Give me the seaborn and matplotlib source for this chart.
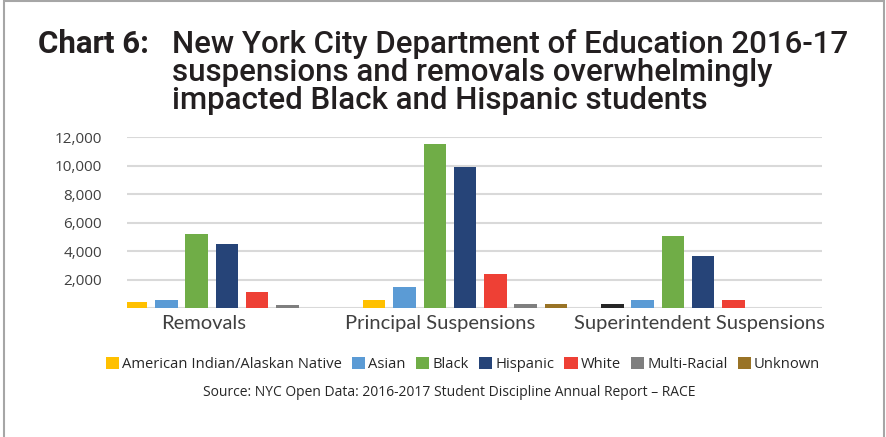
import pandas as pd
import matplotlib.pyplot as plt
from matplotlib.patches import Rectangle
from matplotlib.ticker import FuncFormatter
from matplotlib.transforms import ScaledTranslation
import seaborn as sns

# Chart values
categories = ['Removals', 'Principal Suspensions', 'Superintendent Suspensions']
races = ['American Indian/Alaskan Native', 'Asian', 'Black', 'Hispanic',
         'White', 'Multi-Racial', 'Unknown']
american_indian = [450, 580, 300]
asian = [580, 1490, 580]
black = [5230, 11500, 5080]
hispanic = [4530, 9950, 3690]
white = [1150, 2410, 600]
multi_racial = [200, 290, 0]
unknown = [0, 280, 0]

colors = ['#FFC000', '#5B9BD5', '#70AD47', '#264478', '#EE4035', '#7F7F7F', '#997326']

series = [american_indian, asian, black, hispanic, white, multi_racial, unknown]
rows = []
for race, vals in zip(races, series):
    for cat, v in zip(categories, vals):
        rows.append({'category': cat, 'race': race, 'count': v})
df = pd.DataFrame(rows)

sns.set_style('white')
plt.rcParams['font.family'] = ['Open Sans', 'DejaVu Sans']

fig = plt.figure(figsize=(8.87, 4.37), dpi=100)
ax = fig.add_axes([0.143, 0.2945, 0.784, 0.3913])

sns.barplot(data=df, x='category', y='count', hue='race', order=categories,
            hue_order=races, palette=dict(zip(races, colors)),
            width=0.89, gap=0.26, linewidth=0, saturation=1, ax=ax)

# the Superintendent bar for the first group is drawn dark in the original
ax.containers[0].patches[2].set_facecolor('#262626')

ax.set_ylim(0, 12000)
ax.set_xlim(-0.42, 2.50)
ax.set_yticks(range(0, 12001, 2000))
ax.yaxis.set_major_formatter(FuncFormatter(lambda v, p: '' if v == 0 else f'{v:,.0f}'))
ax.grid(axis='y', color='#d9d9d9', linewidth=1.5)
ax.set_axisbelow(True)
for s in ax.spines.values():
    s.set_visible(False)
ax.set_xlabel('')
ax.set_ylabel('')
ax.tick_params(axis='y', length=0, pad=18, labelsize=11, labelcolor='#404040')
ax.tick_params(axis='x', length=0, pad=5, labelsize=14.5, labelcolor='#404040')
# category labels sit a little left of their groups in the original
label_shift = [-23, -25, -4]
for lbl, dx in zip(ax.get_xticklabels(), label_shift):
    lbl.set_family(['Lato', 'DejaVu Sans'])
    lbl.set_transform(lbl.get_transform() + ScaledTranslation(dx / 100, 0, fig.dpi_scale_trans))

ax.legend(loc='upper center', bbox_to_anchor=(0.522, 0.196), bbox_transform=fig.transFigure,
          ncol=7, frameon=False, fontsize=10.6, handlelength=0.9, handleheight=0.9,
          handletextpad=0.2, columnspacing=0.7, labelcolor='#262626',
          borderaxespad=0)

# title
title_font = ['Roboto', 'DejaVu Sans']
fig.text(38 / 887, 1 - 29 / 437, 'Chart 6:', fontsize=22.5, fontweight='semibold',
         color='#231f20', va='top', ha='left', family=title_font)
fig.text(172 / 887, 1 - 29 / 437,
         'New York City Department of Education 2016-17\n'
         'suspensions and removals overwhelmingly\n'
         'impacted Black and Hispanic students',
         fontsize=22.5, fontweight='medium', color='#231f20', va='top', ha='left',
         linespacing=0.95, family=title_font)

fig.text(449 / 887, 1 - 392 / 437,
         'Source: NYC Open Data: 2016-2017 Student Discipline Annual Report \u2013 RACE',
         fontsize=10, color='#262626', ha='center', va='center')

# grey frame (left, top, right)
fig.patches.append(Rectangle((0.004, -0.1), 0.993, 1.097, transform=fig.transFigure,
                             fill=False, edgecolor='#a6a6a6', linewidth=1.5))

fig.savefig('out.png', dpi=100)
